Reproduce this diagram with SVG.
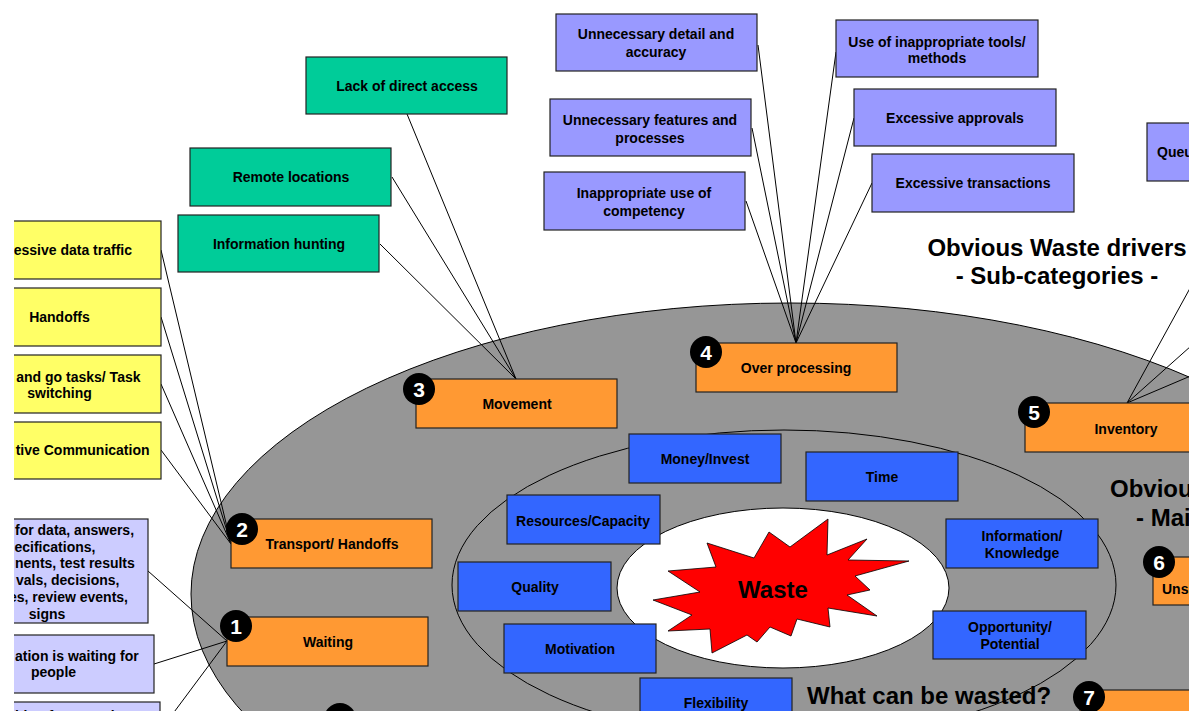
<svg xmlns="http://www.w3.org/2000/svg" width="1197" height="711" viewBox="0 0 1197 711">
  <defs>
    <clipPath id="frame">
      <rect x="14" y="0" width="1175" height="711"/>
    </clipPath>
    <style>
      .box { stroke: #222; stroke-width: 1.2; }
      .yellow { fill: #FFFF66; }
      .lav { fill: #CCCCFF; }
      .purple { fill: #9999FF; }
      .green { fill: #00CC99; }
      .orange { fill: #FF9933; }
      .blue { fill: #3366FF; }
      .t { font-family: "Liberation Sans", Arial, sans-serif; font-weight: bold; font-size: 14px; fill: #000; }
      .c { text-anchor: middle; }
      .e { text-anchor: end; }
      .title { font-family: "Liberation Sans", Arial, sans-serif; font-weight: bold; font-size: 24px; fill: #000; }
      .badge circle { fill: #000; }
      .badge text { font-family: "Liberation Sans", Arial, sans-serif; font-weight: bold; font-size: 21px; fill: #fff; text-anchor: middle; }
      .conn line { stroke: #000; stroke-width: 1; }
    </style>
  </defs>
  <rect width="1197" height="711" fill="#fff"/>
  <g clip-path="url(#frame)">
    <!-- rings -->
    <ellipse id="outer-ring" cx="790" cy="594" rx="599" ry="291" fill="#969696" stroke="#000" stroke-width="1"/>
    <ellipse id="inner-ring" cx="784" cy="585" rx="332" ry="155" fill="none" stroke="#000" stroke-width="1"/>
    <ellipse id="core" cx="783" cy="588" rx="166" ry="80" fill="#fff" stroke="#000" stroke-width="1"/>

    <!-- connectors -->
    <g id="connectors" class="conn">
      <!-- transport / handoffs -->
      <line x1="161" y1="250" x2="231" y2="544"/>
      <line x1="161" y1="317" x2="231" y2="544"/>
      <line x1="161" y1="384" x2="231" y2="544"/>
      <line x1="161" y1="450" x2="231" y2="544"/>
      <!-- waiting -->
      <line x1="148" y1="571" x2="227" y2="641"/>
      <line x1="154" y1="664" x2="227" y2="641"/>
      <line x1="160" y1="731" x2="227" y2="641"/>
      <!-- movement -->
      <line x1="407" y1="114" x2="516" y2="379"/>
      <line x1="392" y1="177" x2="516" y2="379"/>
      <line x1="380" y1="244" x2="516" y2="379"/>
      <!-- over processing -->
      <line x1="758" y1="45" x2="796" y2="343"/>
      <line x1="752" y1="128" x2="796" y2="343"/>
      <line x1="746" y1="201" x2="796" y2="343"/>
      <line x1="836" y1="52" x2="796" y2="343"/>
      <line x1="854" y1="118" x2="796" y2="343"/>
      <line x1="872" y1="183" x2="796" y2="343"/>
      <!-- inventory -->
      <line x1="1127" y1="403" x2="1200" y2="270"/>
      <line x1="1127" y1="403" x2="1200" y2="338"/>
      <line x1="1127" y1="403" x2="1200" y2="372"/>
    </g>

    <!-- centre -->
    <g id="waste">
      <polygon fill="#FF0000" stroke="#000" stroke-width="0.8" points="828,519 827,555 867,539 848,560 909,561 855,576 870,590 847,595 877,616 828,608 830,627 797,619 791,636 770,627 757,642 747,635 712,653 710,629 668,631 692,615 653,600 700,592 668,571 716,567 707,543 754,558 769,532 790,547"/>
      <text class="title c" x="773" y="598">Waste</text>
    </g>

    <!-- what can be wasted -->
    <g id="res-money"><rect class="box blue" x="629" y="434" width="152" height="49"/><text class="t c" x="705" y="464">Money/Invest</text></g>
    <g id="res-time"><rect class="box blue" x="806" y="452" width="152" height="49"/><text class="t c" x="882" y="482">Time</text></g>
    <g id="res-capacity"><rect class="box blue" x="507" y="495" width="153" height="49"/><text class="t c" x="583" y="526">Resources/Capacity</text></g>
    <g id="res-quality"><rect class="box blue" x="458" y="562" width="153" height="49"/><text class="t c" x="535" y="592">Quality</text></g>
    <g id="res-motivation"><rect class="box blue" x="504" y="624" width="152" height="49"/><text class="t c" x="580" y="654">Motivation</text></g>
    <g id="res-flexibility"><rect class="box blue" x="640" y="678" width="152" height="49"/><text class="t c" x="716" y="708">Flexibility</text></g>
    <g id="res-information"><rect class="box blue" x="946" y="519" width="152" height="49"/><text class="t c" x="1022" y="541">Information/</text><text class="t c" x="1022" y="558">Knowledge</text></g>
    <g id="res-opportunity"><rect class="box blue" x="933" y="611" width="153" height="48"/><text class="t c" x="1010" y="632">Opportunity/</text><text class="t c" x="1010" y="649">Potential</text></g>
    <text class="title" x="807" y="704">What can be wasted?</text>

    <!-- main categories -->
    <g id="cat-waiting"><rect class="box orange" x="227" y="617" width="201" height="49"/><text class="t c" x="328" y="647">Waiting</text>
      <g class="badge"><circle cx="236" cy="626" r="16"/><text x="236" y="634">1</text></g></g>
    <g id="cat-transport"><rect class="box orange" x="231" y="519" width="201" height="49"/><text class="t c" x="332" y="549">Transport/ Handoffs</text>
      <g class="badge"><circle cx="242" cy="529" r="16"/><text x="242" y="537">2</text></g></g>
    <g id="cat-movement"><rect class="box orange" x="416" y="379" width="201" height="49"/><text class="t c" x="517" y="409">Movement</text>
      <g class="badge"><circle cx="419" cy="389" r="16"/><text x="419" y="397">3</text></g></g>
    <g id="cat-overprocessing"><rect class="box orange" x="696" y="343" width="201" height="49"/><text class="t c" x="796" y="373">Over processing</text>
      <g class="badge"><circle cx="706" cy="352" r="16"/><text x="706" y="360">4</text></g></g>
    <g id="cat-inventory"><rect class="box orange" x="1025" y="403" width="201" height="49"/><text class="t c" x="1126" y="434">Inventory</text>
      <g class="badge"><circle cx="1034" cy="412" r="16"/><text x="1034" y="420">5</text></g></g>
    <g id="cat-6"><rect class="box orange" x="1153" y="557" width="201" height="48"/><text class="t" x="1162" y="594">Uns</text>
      <g class="badge"><circle cx="1159" cy="562" r="16"/><text x="1159" y="570">6</text></g></g>
    <g id="cat-7"><rect class="box orange" x="1080" y="690" width="201" height="49"/>
      <g class="badge"><circle cx="1089" cy="697" r="16"/><text x="1089" y="705">7</text></g></g>
    <g id="cat-12"><g class="badge"><circle cx="340" cy="719" r="16"/><text x="340" y="727">12</text></g></g>

    <text class="title" x="1110" y="497">Obviou</text>
    <text class="title" x="1136" y="526">- Mai</text>

    <!-- sub-categories -->
    <text class="title c" x="1057" y="256">Obvious Waste drivers</text>
    <text class="title c" x="1057" y="284">- Sub-categories -</text>

    <g id="sub-data-traffic"><rect class="box yellow" x="-42" y="221" width="203" height="58"/><text class="t e" x="132" y="255">essive data traffic</text></g>
    <g id="sub-handoffs"><rect class="box yellow" x="-42" y="288" width="203" height="58"/><text class="t c" x="59.5" y="322">Handoffs</text></g>
    <g id="sub-stop-go"><rect class="box yellow" x="-42" y="355" width="203" height="58"/><text class="t e" x="140.5" y="382">and go tasks/ Task</text><text class="t c" x="59.5" y="398">switching</text></g>
    <g id="sub-communication"><rect class="box yellow" x="-42" y="422" width="203" height="57"/><text class="t e" x="149.5" y="455">tive Communication</text></g>

    <g id="sub-waiting-data"><rect class="box lav" x="-54" y="519" width="202" height="104"/>
      <text class="t" x="15" y="535">for data, answers,</text>
      <text class="t" x="14.5" y="552">ecifications,</text>
      <text class="t" x="15" y="568">nents, test results</text>
      <text class="t" x="16" y="585">vals, decisions,</text>
      <text class="t e" x="128" y="602">es, review events,</text>
      <text class="t c" x="47" y="619">signs</text></g>
    <g id="sub-waiting-people"><rect class="box lav" x="-47" y="635" width="201" height="58"/>
      <text class="t" x="15" y="661">ation is waiting for</text>
      <text class="t c" x="53.5" y="677">people</text></g>
    <g id="sub-waiting-capacity"><rect class="box lav" x="-41" y="702" width="201" height="58"/>
      <text class="t" x="15" y="721">iting for capacity</text></g>

    <g id="sub-access"><rect class="box green" x="306" y="57" width="201" height="57"/><text class="t c" x="407" y="91">Lack of direct access</text></g>
    <g id="sub-remote"><rect class="box green" x="190" y="148" width="201" height="58"/><text class="t c" x="291" y="182">Remote locations</text></g>
    <g id="sub-hunting"><rect class="box green" x="178" y="215" width="201" height="57"/><text class="t c" x="279" y="249">Information hunting</text></g>

    <g id="sub-detail"><rect class="box purple" x="556" y="14" width="201" height="57"/><text class="t c" x="656" y="39">Unnecessary detail and</text><text class="t c" x="656" y="57">accuracy</text></g>
    <g id="sub-features"><rect class="box purple" x="550" y="99" width="201" height="57"/><text class="t c" x="650" y="125">Unnecessary features and</text><text class="t c" x="650" y="143">processes</text></g>
    <g id="sub-competency"><rect class="box purple" x="544" y="172" width="201" height="58"/><text class="t c" x="644" y="198">Inappropriate use of</text><text class="t c" x="644" y="216">competency</text></g>
    <g id="sub-tools"><rect class="box purple" x="836" y="20" width="202" height="57"/><text class="t c" x="937" y="47">Use of inappropriate tools/</text><text class="t c" x="937" y="63">methods</text></g>
    <g id="sub-approvals"><rect class="box purple" x="854" y="89" width="202" height="57"/><text class="t c" x="955" y="123">Excessive approvals</text></g>
    <g id="sub-transactions"><rect class="box purple" x="872" y="154" width="202" height="58"/><text class="t c" x="973" y="188">Excessive transactions</text></g>
    <g id="sub-queues"><rect class="box purple" x="1147" y="123" width="202" height="58"/><text class="t" x="1157" y="157">Queu</text></g>
  </g>
</svg>
